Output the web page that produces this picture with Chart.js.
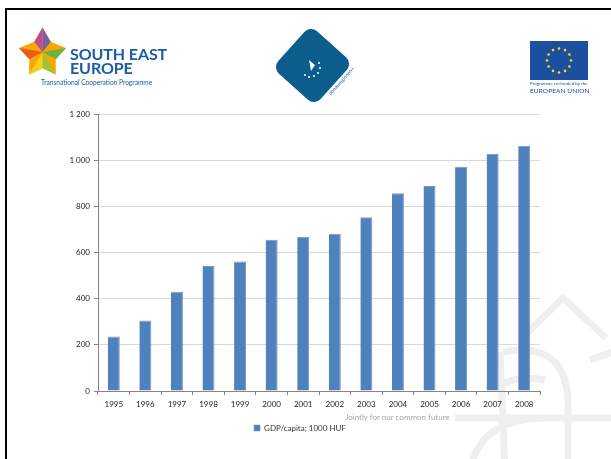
<!DOCTYPE html>
<html>
<head>
<meta charset="utf-8">
<script src="https://cdn.jsdelivr.net/npm/chart.js@4.4.1/dist/chart.umd.min.js"></script>
<style>
  html, body { margin: 0; padding: 0; background: #fff; }
  body { width: 611px; height: 459px; position: relative; overflow: hidden; font-family: Lato, "Noto Sans", sans-serif; }
  #slide { position: absolute; left: 5px; top: 8px; width: 620px; height: 470px; border: 2px solid #000; box-sizing: border-box; }
  #chart { position: absolute; left: 0; top: 0; }
  .see-title { position: absolute; left: 70px; top: 47px; color: #1c5ba8; font-weight: bold; font-size: 16px; line-height: 14px; letter-spacing: -0.1px; }
  .see-sub { position: absolute; left: 41px; top: 78px; color: #1c5ba8; font-size: 6.6px; }
  .flower { position: absolute; left: 19px; top: 27px; width: 47px; height: 52px; }
  .diamond { position: absolute; left: 284px; top: 37px; width: 57px; height: 57px; background: #0d5c8e; border-radius: 9px; transform: rotate(42deg); }
  .mark { position: absolute; left: 303px; top: 57px; }
  .donau { position: absolute; left: 327px; top: 92px; font-size: 5px; color: #0d5c8e; transform: rotate(-48deg); transform-origin: left top; }
  .euflag { position: absolute; left: 530px; top: 41px; width: 58px; height: 39px; background: #1c4fa0; }
  .eu1 { position: absolute; left: 530px; top: 81px; font-size: 4.5px; color: #1c4fa0; white-space: nowrap; }
  .eu2 { position: absolute; left: 530px; top: 87px; font-size: 6.5px; color: #1c4fa0; white-space: nowrap; letter-spacing: 0.1px; }
  .footer { position: absolute; left: 345px; top: 412px; font-size: 8px; color: #a6a6a6; letter-spacing: 0px; }
</style>
</head>
<body>
<div id="slide"></div>
<canvas id="chart" width="611" height="459"></canvas>

<svg class="flower" viewBox="0 0 46 50">
  <polygon points="23,0 31,14 46,20 36,31 36,46 23,40 10,46 10,31 0,20 15,14" fill="#f6a800"/>
  <polygon points="23,0 31,14 23,24" fill="#7b5ea7"/>
  <polygon points="46,20 36,31 23,24" fill="#6db33f"/>
  <polygon points="36,46 23,40 23,24" fill="#9dc43a"/>
  <polygon points="0,20 10,31 23,24" fill="#e85a1e"/>
  <polygon points="10,46 23,40 23,24" fill="#f7d117"/>
  <polygon points="15,14 23,0 23,24" fill="#c04a8e"/>
</svg>
<div class="see-title">SOUTH EAST<br>EUROPE</div>
<div class="see-sub">Transnational Cooperation Programme</div>

<div class="diamond"></div>
<svg class="mark" width="22" height="24" viewBox="0 0 22 24">
  <polygon points="6,3 12,8 8,14" fill="#fff"/>
  <circle cx="16" cy="6" r="1" fill="#fff"/>
  <circle cx="17" cy="11" r="1" fill="#fff"/>
  <circle cx="15" cy="16" r="1" fill="#fff"/>
  <circle cx="11" cy="19" r="1" fill="#fff"/>
  <circle cx="6" cy="20" r="1" fill="#fff"/>
  <circle cx="2" cy="18" r="1" fill="#fff"/>
</svg>
<div class="donau">donauregionen+</div>

<div class="euflag">
  <svg width="58" height="39" viewBox="0 0 58 39" id="stars"></svg>
</div>
<div class="eu1">Programme co-funded by the</div>
<div class="eu2">EUROPEAN UNION</div>

<div class="footer">Jointly for our common future</div>

<script>
const years = ["1995", "1996", "1997", "1998", "1999", "2000", "2001", "2002", "2003", "2004", "2005", "2006", "2007", "2008"];
const gdpPerCapita = [236, 305, 430, 541, 561, 655, 668, 681, 753, 857, 888, 971, 1028, 1062];
const seriesLabel = "GDP/capita; 1000 HUF";
const yTicks = [0, 200, 400, 600, 800, 1000, 1200];

// stars on the flag
const starsSvg = document.getElementById("stars");
for (let i = 0; i < 12; i++) {
  const a = i * Math.PI / 6;
  const x = 29 + 12 * Math.cos(a), y = 19.5 + 12 * Math.sin(a);
  starsSvg.innerHTML += `<circle cx="${x.toFixed(1)}" cy="${y.toFixed(1)}" r="1.3" fill="#ffdd00"/>`;
}

// pale watermark in the bottom right corner
const watermark = {
  id: "watermark",
  beforeDraw(chart) {
    const c = chart.ctx;
    c.save();
    c.strokeStyle = "#efefef";
    c.lineWidth = 7;
    c.lineJoin = "round";
    c.beginPath();
    c.moveTo(522, 338);
    c.lineTo(563, 298);
    c.lineTo(606, 338);
    c.stroke();
    c.beginPath();
    c.moveTo(502, 352);
    c.quadraticCurveTo(565, 340, 568, 400);
    c.lineTo(568, 470);
    c.stroke();
    c.beginPath();
    c.moveTo(590, 360);
    c.quadraticCurveTo(612, 352, 620, 350);
    c.stroke();
    c.beginPath();
    c.moveTo(500, 352);
    c.lineTo(505, 470);
    c.stroke();
    c.beginPath();
    c.moveTo(455, 418);
    c.lineTo(625, 418);
    c.stroke();
    c.beginPath();
    c.moveTo(470, 470);
    c.quadraticCurveTo(480, 420, 540, 418);
    c.stroke();
    c.beginPath();
    c.moveTo(500, 385);
    c.quadraticCurveTo(520, 375, 545, 380);
    c.stroke();
    c.restore();
  }
};

new Chart(document.getElementById("chart"), {
  type: "bar",
  data: {
    labels: years,
    datasets: [{
      label: seriesLabel,
      data: gdpPerCapita,
      backgroundColor: "#4f81bd",
      borderColor: "#6f98cc",
      borderWidth: { left: 0, right: 1, top: 1, bottom: 0 },
      barPercentage: 0.38,
      categoryPercentage: 1
    }]
  },
  options: {
    responsive: false,
    animation: false,
    layout: { padding: { left: 60, right: 71, top: 114, bottom: 17 } },
    plugins: {
      tooltip: { enabled: false },
      legend: {
        position: "bottom",
        labels: {
          boxWidth: 6,
          boxHeight: 6,
          padding: 9,
          color: "#333",
          font: { family: "Lato", size: 8 }
        }
      }
    },
    scales: {
      x: {
        afterFit(s) { s.height = 24; },
        grid: { drawOnChartArea: false, tickLength: 4, color: "#868686", offset: true },
        border: { color: "#868686" },
        ticks: { color: "#222", font: { family: "Lato", size: 8 }, padding: 5 }
      },
      y: {
        min: 0,
        max: 1200,
        afterFit(s) { s.width = 38; },
        afterBuildTicks(s) { s.ticks = yTicks.map(v => ({ value: v })); },
        grid: { color: "#d9d9d9", tickColor: "#868686", tickLength: 4 },
        border: { color: "#868686" },
        ticks: {
          color: "#222",
          font: { family: "Lato", size: 8 },
          padding: 4,
          callback: v => String(v).replace(/\B(?=(\d{3})+(?!\d))/g, " ")
        }
      }
    }
  },
  plugins: [watermark]
});
</script>
</body>
</html>
